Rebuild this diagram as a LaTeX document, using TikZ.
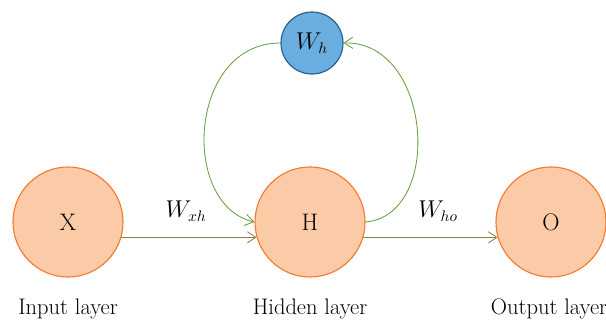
\documentclass[tikz,border=0pt]{standalone}
\usetikzlibrary{arrows.meta, positioning, calc}

\definecolor{peach}{HTML}{FBCBA8}
\definecolor{peachline}{HTML}{F47A30}
\definecolor{skyfill}{HTML}{6AAEDF}
\definecolor{skyline}{HTML}{1F5E8E}
\definecolor{olive}{HTML}{8C8246}
\definecolor{loopgreen}{HTML}{6A9F3A}

\begin{document}
\begin{tikzpicture}[
      x=0.025cm, y=-0.025cm,
      layer/.style={circle, draw=peachline, fill=peach, thick, minimum size=2.75cm, inner sep=0pt, font=\fontsize{17}{20}\selectfont},
      weight/.style={circle, draw=skyline, fill=skyfill, thick, minimum size=1.55cm, inner sep=0pt, font=\fontsize{16}{19}\selectfont},
      caption/.style={font=\fontsize{16}{19}\selectfont, anchor=base},
      wlabel/.style={font=\fontsize{16}{19}\selectfont},
      feed/.style={-{Straight Barb[length=6pt, width=8pt]}, olive, semithick},
      loop/.style={-{Straight Barb[length=6pt, width=8pt]}, loopgreen, semithick}
    ]
    \useasboundingbox (0,0) rectangle (606,320);

    \node[layer] (x) at (68,222) {X};
    \node[layer] (h) at (310,222) {H};
    \node[layer] (o) at (551,222) {O};
    \node[weight] (wh) at (312,43) {$W_h$};

    \node[caption] (inlbl) at (68,315) {Input layer};
    \node[caption] (hidlbl) at (310,315) {Hidden layer};
    \node[caption] (outlbl) at (549,315) {Output layer};

    \node[wlabel] (wxh) at (186,211) {$W_{xh}$};
    \node[wlabel] (who) at (438,211) {$W_{ho}$};

    \draw[feed] (x.-16) -- (h.196);
    \draw[feed] (h.-16) -- (o.196);

    % recurrent loop through W_h
    \draw[loop] (wh.west) .. controls (188,43) and (180,205) .. (h.west);
    \draw[loop] (h.east) .. controls (444,215) and (432,41) .. (wh.east);
  \end{tikzpicture}
\end{document}
